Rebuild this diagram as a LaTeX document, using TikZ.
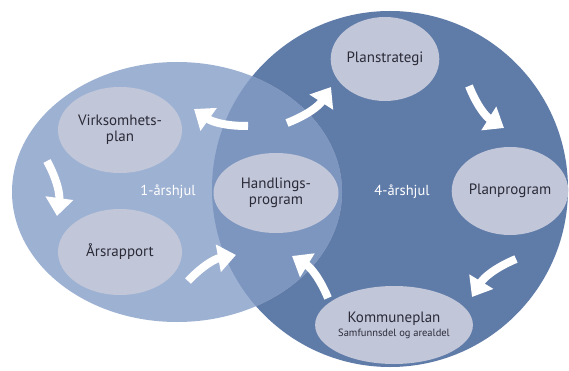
\documentclass[tikz,border=0pt]{standalone}
\usepackage{fontspec}
\setmainfont{PT Sans}
\usepackage{tikz}
\usepackage{xcolor}
\usetikzlibrary{arrows.meta, positioning, shapes.geometric}
\definecolor{wheellight}{HTML}{9DB1D3}
\definecolor{wheelmid}{HTML}{7D96BF}
\definecolor{wheeldark}{HTML}{5F7BA8}
\definecolor{stagefill}{HTML}{C1C6D9}
\definecolor{stagetext}{HTML}{2B2B38}

\begin{document}
\begin{tikzpicture}[x=1pt, y=-1pt,
    stage/.style={ellipse, fill=stagefill, text=stagetext, inner sep=0pt,
      align=center, font=\fontsize{15}{16}\selectfont},
    wheel/.style={text=white, font=\fontsize{14.5}{16}\selectfont},
    turn/.style={white, line width=8pt, -{Triangle[width=27pt,length=18pt]}},
  ]
  \useasboundingbox (0,0) rectangle (569,371);
  % Wheels
  \fill[wheeldark] (390,189) circle[radius=178pt];
  \fill[wheellight] (177,192) ellipse[x radius=165pt, y radius=130pt];
  \begin{scope}
    \clip (390,189) circle[radius=178pt];
    \fill[wheelmid] (177,192) ellipse[x radius=165pt, y radius=130pt];
  \end{scope}
  % Stages
  \node[stage, minimum width=124pt, minimum height=86pt] (virk) at (120,130) {Virksomhets-\\plan};
  \node[stage, minimum width=124pt, minimum height=86pt] (aars) at (120,252) {Årsrapport};
  \node[stage, minimum width=125pt, minimum height=80pt] (hand) at (276,193) {Handlings-\\program};
  \node[stage, minimum width=102pt, minimum height=84pt] (plans) at (385,59) {Planstrategi};
  \node[stage, minimum width=116pt, minimum height=88pt] (planp) at (510,191) {Planprogram};
  \node[stage, minimum width=122pt, minimum height=78pt] (komm) at (394,325)
    {Kommuneplan\\[-2pt]{\fontsize{10.5}{11}\selectfont Samfunnsdel og arealdel}};
  \node[wheel] (one) at (168,192) {1-årshjul};
  \node[wheel] (four) at (402,192) {4-årshjul};
  % Arrow ends
  \coordinate (hv1) at (248,126); \coordinate (hv2) at (194,109);
  \coordinate (va1) at (47,161);  \coordinate (va2) at (57,216);
  \coordinate (ah1) at (188,281); \coordinate (ah2) at (236,255);
  \coordinate (hp1) at (287,123); \coordinate (hp2) at (331,87);
  \coordinate (pp1) at (469,86);  \coordinate (pp2) at (504,128);
  \coordinate (pk1) at (516,259); \coordinate (pk2) at (472,297);
  \coordinate (kh1) at (328,298); \coordinate (kh2) at (292,256);
  % Draw arrows
  \foreach \s/\e/\b in {hv1/hv2/left, va1/va2/left, ah1/ah2/left,
      hp1/hp2/right, pp1/pp2/right, pk1/pk2/right, kh1/kh2/right} {
    \draw[turn] (\s) to[bend \b=18] (\e);
  }
\end{tikzpicture}
\end{document}
